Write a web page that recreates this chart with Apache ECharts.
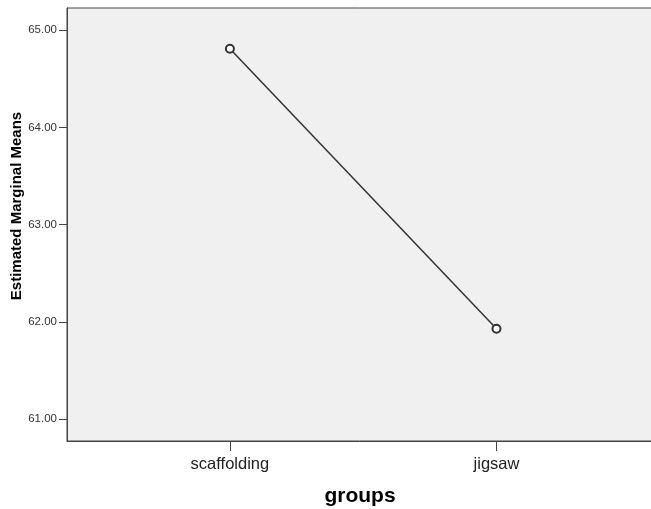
<!DOCTYPE html>
<html><head><meta charset="utf-8">
<script src="https://cdn.jsdelivr.net/npm/echarts@6/dist/echarts.min.js"></script>
<style>html,body{margin:0;padding:0;background:#fff}#c{width:651px;height:509px}</style>
</head><body><div id="c"></div>
<script>
const categories = ['scaffolding', 'jigsaw'];
const means = [64.81, 61.93];
const yTicks = [61, 62, 63, 64, 65];
const xTitle = 'groups';
const yTitle = 'Estimated Marginal Means';

const chart = echarts.init(document.getElementById('c'), null, {renderer: 'canvas'});
const ff = '"Liberation Sans", Arial, sans-serif';
chart.setOption({
  animation: false,
  grid: {left: 67, right: -2, top: 8, bottom: 68, show: true, backgroundColor: '#f0f0f0', borderColor: '#444', borderWidth: 1,
         containLabel: false, outerBoundsMode: 'none'},
  graphic: [{
    type: 'text', x: 17, y: 206, rotation: Math.PI / 2,
    style: {text: yTitle, font: 'bold 15px ' + ff, fill: '#000', align: 'center', verticalAlign: 'middle',
            textAlign: 'center', textVerticalAlign: 'middle'}
  }],
  xAxis: {
    type: 'value', min: -0.611, max: 1.587,
    name: xTitle, nameLocation: 'middle', nameGap: 45,
    nameTextStyle: {fontFamily: ff, fontSize: 21, fontWeight: 'bold', color: '#000'},
    axisLine: {show: true, onZero: false, lineStyle: {color: '#444', width: 1}},
    axisTick: {show: true, length: 10, lineStyle: {color: '#444'}, customValues: [0, 1]},
    axisLabel: {customValues: [0, 1], formatter: v => categories[Math.round(v)], fontFamily: ff, fontSize: 16.5, color: '#222', margin: 15},
    splitLine: {show: false}
  },
  yAxis: {
    type: 'value', min: 60.776, max: 65.229,
    axisLine: {show: true, onZero: false, lineStyle: {color: '#444', width: 1}},
    axisTick: {show: true, length: 8, lineStyle: {color: '#444'}, customValues: yTicks},
    axisLabel: {customValues: yTicks, formatter: v => v.toFixed(2), fontFamily: ff, fontSize: 11.5, color: '#333', margin: 10},
    splitLine: {show: false}
  },
  series: [{
    type: 'line',
    data: means.map((v, i) => [i, v]),
    symbol: 'emptyCircle', symbolSize: 8,
    lineStyle: {color: '#333', width: 1.5},
    itemStyle: {color: '#333', borderColor: '#333', borderWidth: 1.3}
  }]
});
</script></body></html>
